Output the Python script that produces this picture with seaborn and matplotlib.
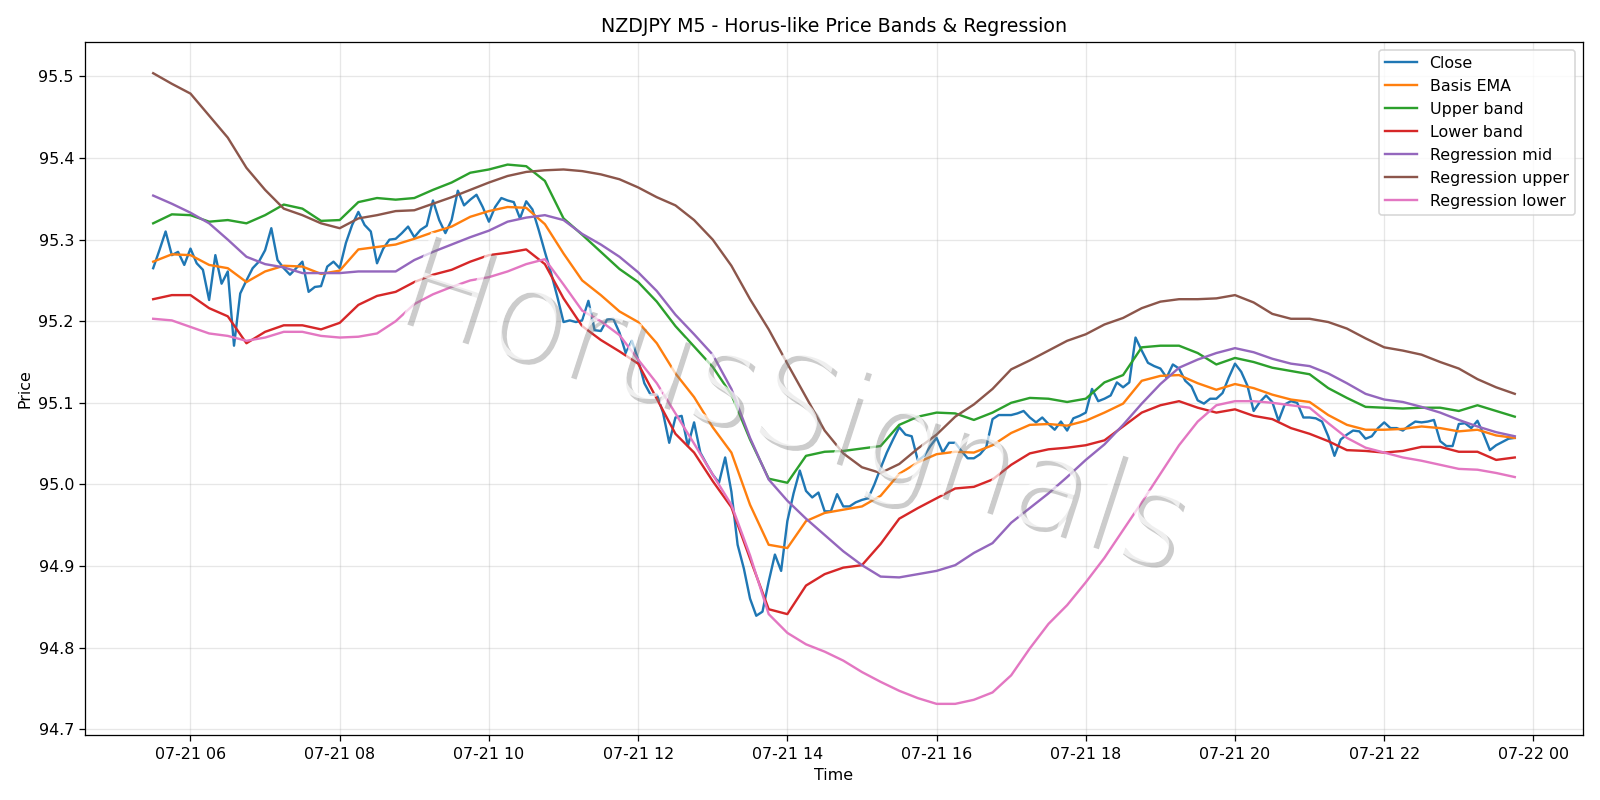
import pandas as pd
import matplotlib
matplotlib.use("Agg")
import matplotlib.pyplot as plt
import matplotlib.dates as mdates
import matplotlib.patheffects as pe
import seaborn as sns

# 5-minute closes, 05:30 .. 23:45 (one row per hour)
close_vals = [
    95.265, 95.287, 95.310, 95.281, 95.285, 95.269,
    95.289, 95.271, 95.263, 95.226, 95.281, 95.246, 95.261, 95.170, 95.234, 95.250, 95.265, 95.273,
    95.287, 95.314, 95.275, 95.265, 95.257, 95.265, 95.273, 95.236, 95.242, 95.243, 95.267, 95.273,
    95.265, 95.296, 95.318, 95.334, 95.318, 95.310, 95.271, 95.289, 95.300, 95.301, 95.308, 95.316,
    95.303, 95.312, 95.317, 95.348, 95.324, 95.308, 95.324, 95.360, 95.342, 95.349, 95.355, 95.340,
    95.322, 95.340, 95.351, 95.348, 95.346, 95.326, 95.347, 95.337, 95.312, 95.285, 95.259, 95.230,
    95.199, 95.201, 95.199, 95.201, 95.225, 95.189, 95.188, 95.202, 95.203, 95.186, 95.161, 95.176,
    95.153, 95.124, 95.110, 95.110, 95.088, 95.051, 95.082, 95.084, 95.047, 95.076, 95.039, 95.025,
    95.012, 95.002, 95.033, 94.991, 94.926, 94.897, 94.860, 94.839, 94.844, 94.881, 94.914, 94.894,
    94.955, 94.989, 95.017, 94.992, 94.984, 94.990, 94.967, 94.967, 94.988, 94.973, 94.973, 94.978,
    94.981, 94.983, 95.000, 95.020, 95.039, 95.055, 95.070, 95.061, 95.059, 95.029, 95.035, 95.047,
    95.057, 95.039, 95.051, 95.051, 95.041, 95.032, 95.032, 95.037, 95.046, 95.080, 95.085, 95.085,
    95.085, 95.087, 95.090, 95.082, 95.076, 95.082, 95.074, 95.067, 95.077, 95.066, 95.081, 95.084,
    95.088, 95.117, 95.102, 95.105, 95.109, 95.125, 95.119, 95.125, 95.180, 95.164, 95.149, 95.145,
    95.142, 95.131, 95.147, 95.142, 95.127, 95.120, 95.103, 95.099, 95.105, 95.105, 95.112, 95.131,
    95.148, 95.138, 95.121, 95.090, 95.101, 95.109, 95.101, 95.078, 95.098, 95.102, 95.100, 95.082,
    95.082, 95.081, 95.077, 95.059, 95.035, 95.055, 95.061, 95.066, 95.065, 95.056, 95.059, 95.069,
    95.076, 95.069, 95.069, 95.066, 95.072, 95.077, 95.076, 95.077, 95.079, 95.053, 95.047, 95.047,
    95.074, 95.075, 95.069, 95.078, 95.061, 95.042, 95.048, 95.052, 95.056, 95.057,
]

# 15-minute readings of the indicator lines, 05:30 .. 23:45
basis_ema = [
    95.273, 95.282,
    95.281, 95.269, 95.265, 95.248, 95.261, 95.268, 95.267, 95.258,
    95.262, 95.288, 95.291, 95.294, 95.301, 95.309, 95.316, 95.328,
    95.335, 95.340, 95.339, 95.319, 95.283, 95.250, 95.232, 95.212,
    95.199, 95.173, 95.136, 95.107, 95.070, 95.039, 94.975, 94.926,
    94.922, 94.955, 94.965, 94.969, 94.973, 94.986, 95.013, 95.027,
    95.037, 95.040, 95.039, 95.048, 95.063, 95.073, 95.074, 95.072,
    95.078, 95.088, 95.099, 95.127, 95.133, 95.134, 95.124, 95.116,
    95.123, 95.118, 95.110, 95.104, 95.101, 95.085, 95.073, 95.067,
    95.067, 95.068, 95.071, 95.069, 95.065, 95.067, 95.060, 95.057,
]
upper_band = [
    95.320, 95.331,
    95.330, 95.322, 95.324, 95.320, 95.330, 95.343, 95.338, 95.323,
    95.324, 95.346, 95.351, 95.349, 95.351, 95.361, 95.370, 95.382,
    95.386, 95.392, 95.390, 95.372, 95.326, 95.306, 95.285, 95.264,
    95.248, 95.224, 95.194, 95.169, 95.144, 95.110, 95.055, 95.007,
    95.002, 95.035, 95.040, 95.041, 95.044, 95.047, 95.073, 95.083,
    95.088, 95.087, 95.079, 95.088, 95.100, 95.106, 95.105, 95.101,
    95.105, 95.125, 95.134, 95.168, 95.170, 95.170, 95.161, 95.147,
    95.155, 95.150, 95.143, 95.139, 95.135, 95.118, 95.106, 95.095,
    95.094, 95.093, 95.094, 95.094, 95.090, 95.097, 95.090, 95.083,
]
lower_band = [
    95.227, 95.232,
    95.232, 95.216, 95.206, 95.173, 95.187, 95.195, 95.195, 95.190,
    95.198, 95.220, 95.231, 95.236, 95.248, 95.257, 95.263, 95.273,
    95.281, 95.284, 95.288, 95.270, 95.228, 95.194, 95.177, 95.163,
    95.148, 95.105, 95.062, 95.039, 95.004, 94.972, 94.909, 94.847,
    94.841, 94.876, 94.890, 94.898, 94.901, 94.927, 94.958, 94.971,
    94.983, 94.995, 94.997, 95.006, 95.024, 95.038, 95.043, 95.045,
    95.048, 95.054, 95.071, 95.088, 95.097, 95.102, 95.094, 95.088,
    95.092, 95.084, 95.080, 95.069, 95.062, 95.053, 95.042, 95.041,
    95.039, 95.041, 95.046, 95.046, 95.040, 95.040, 95.030, 95.033,
]
reg_mid = [
    95.354, 95.344,
    95.333, 95.320, 95.300, 95.279, 95.270, 95.266, 95.259, 95.259,
    95.259, 95.261, 95.261, 95.261, 95.275, 95.285, 95.294, 95.303,
    95.311, 95.322, 95.327, 95.330, 95.324, 95.307, 95.294, 95.279,
    95.260, 95.237, 95.208, 95.184, 95.159, 95.117, 95.057, 95.006,
    94.980, 94.958, 94.938, 94.918, 94.901, 94.887, 94.886, 94.890,
    94.894, 94.901, 94.916, 94.928, 94.953, 94.971, 94.989, 95.009,
    95.030, 95.049, 95.073, 95.099, 95.123, 95.143, 95.153, 95.161,
    95.167, 95.162, 95.154, 95.148, 95.145, 95.136, 95.124, 95.111,
    95.104, 95.101, 95.095, 95.088, 95.079, 95.071, 95.064, 95.059,
]
reg_upper = [
    95.504, 95.491,
    95.479, 95.452, 95.425, 95.388, 95.361, 95.338, 95.330, 95.320,
    95.314, 95.326, 95.330, 95.335, 95.336, 95.344, 95.352, 95.361,
    95.370, 95.378, 95.383, 95.385, 95.386, 95.384, 95.380, 95.374,
    95.364, 95.352, 95.342, 95.324, 95.300, 95.268, 95.227, 95.190,
    95.148, 95.107, 95.066, 95.038, 95.021, 95.014, 95.025, 95.044,
    95.061, 95.083, 95.098, 95.117, 95.141, 95.152, 95.164, 95.176,
    95.184, 95.196, 95.204, 95.216, 95.224, 95.227, 95.227, 95.228,
    95.232, 95.223, 95.209, 95.203, 95.203, 95.199, 95.191, 95.179,
    95.168, 95.164, 95.159, 95.150, 95.142, 95.129, 95.119, 95.111,
]
reg_lower = [
    95.203, 95.201,
    95.193, 95.185, 95.182, 95.176, 95.180, 95.187, 95.187, 95.182,
    95.180, 95.181, 95.185, 95.200, 95.221, 95.233, 95.242, 95.250,
    95.254, 95.261, 95.270, 95.276, 95.245, 95.213, 95.200, 95.183,
    95.153, 95.124, 95.087, 95.050, 95.012, 94.975, 94.913, 94.841,
    94.818, 94.804, 94.795, 94.784, 94.770, 94.758, 94.747, 94.738,
    94.731, 94.731, 94.736, 94.745, 94.766, 94.799, 94.829, 94.852,
    94.880, 94.910, 94.944, 94.978, 95.013, 95.048, 95.077, 95.097,
    95.102, 95.102, 95.100, 95.097, 95.094, 95.075, 95.057, 95.045,
    95.039, 95.033, 95.029, 95.024, 95.019, 95.018, 95.014, 95.009,
]

t_close = pd.date_range("2025-07-21 05:30", periods=len(close_vals), freq="5min")
t_ind = pd.date_range("2025-07-21 05:30", periods=len(basis_ema), freq="15min")

fig, ax = plt.subplots(figsize=(14, 7), dpi=1600 / 14)

sns.lineplot(x=t_close, y=close_vals, ax=ax, color="C0", label="Close")
series = [
    (basis_ema, "Basis EMA", "C1"),
    (upper_band, "Upper band", "C2"),
    (lower_band, "Lower band", "C3"),
    (reg_mid, "Regression mid", "C4"),
    (reg_upper, "Regression upper", "C5"),
    (reg_lower, "Regression lower", "C6"),
]
for vals, name, col in series:
    sns.lineplot(x=t_ind, y=vals, ax=ax, color=col, label=name)

# watermark (thin glyphs, white body over a soft grey shadow)
ax.text(0.471, 0.47, "HorusSignals", transform=ax.transAxes, fontsize=80,
        family="DejaVu Sans", fontweight=200,
        color="white", alpha=0.7, rotation=-18, ha="center", va="center",
        path_effects=[pe.withSimplePatchShadow(offset=(3, -3), shadow_rgbFace="gray", alpha=0.4)])

ax.xaxis.set_major_locator(mdates.HourLocator(interval=2))
ax.xaxis.set_major_formatter(mdates.DateFormatter("%m-%d %H"))
ax.grid(True, alpha=0.3)
ax.set_title("NZDJPY M5 - Horus-like Price Bands & Regression")
ax.set_xlabel("Time")
ax.set_ylabel("Price")
ax.legend(loc="upper right")

fig.tight_layout()
fig.savefig("out.png")
